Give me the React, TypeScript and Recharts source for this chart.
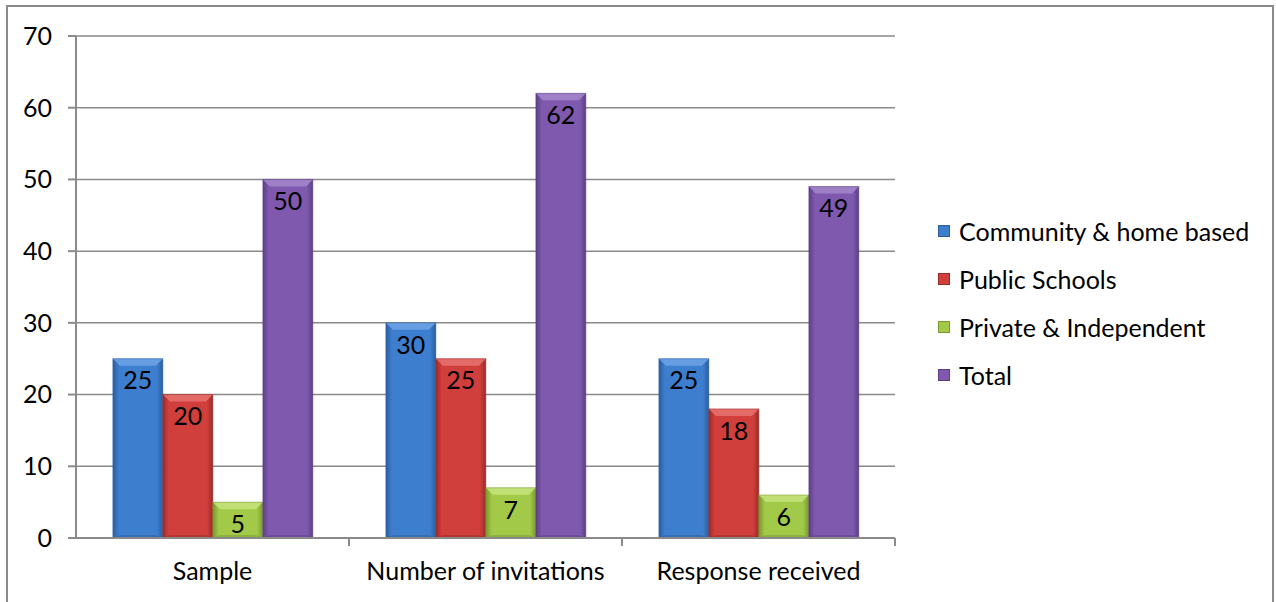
import React from 'react';
import { BarChart, Bar, XAxis, YAxis, CartesianGrid, Legend, LabelList } from 'recharts';

const categories = ['Sample', 'Number of invitations', 'Response received'];
const communityHome = [25, 30, 25];
const publicSchools = [20, 25, 18];
const privateIndependent = [5, 7, 6];
const totals = [50, 62, 49];
const yTicks = [0, 10, 20, 30, 40, 50, 60, 70];

const SERIES = [
  { key: 'community', name: 'Community & home based', values: communityHome, base: '#3d7ecf', light: '#6ea3e6', dark: '#2b5e9f' },
  { key: 'public', name: 'Public Schools', values: publicSchools, base: '#d13f3c', light: '#e8726f', dark: '#9c2a27' },
  { key: 'private', name: 'Private & Independent', values: privateIndependent, base: '#a2ca48', light: '#c6e47e', dark: '#789a2d' },
  { key: 'total', name: 'Total', values: totals, base: '#7f59ae', light: '#a487cc', dark: '#5c3f84' },
];

const data = categories.map((c, i) => {
  const row: any = { name: c };
  SERIES.forEach(s => { row[s.key] = s.values[i]; });
  return row;
});

const W = 1276;
const H = 602;
const PLOT_LEFT = 76;
const PLOT_RIGHT = 895;
const FONT = 'Lato, "Open Sans", sans-serif';
const FS = 25;
const AXIS = '#8a8a8a';

// Excel-style bevelled bar
const BevelBar = (props: any) => {
  const { x, y, width: w, height: h, base, light, dark, gid } = props;
  if (!h || h <= 0) return null;
  const b = Math.min(7, h / 2, w / 4);
  const id = `g-${gid}-${Math.round(x)}`;
  return (
    <g>
      <defs>
        <linearGradient id={id} x1="0" y1="0" x2="1" y2="0">
          <stop offset="0%" stopColor={dark} />
          <stop offset="12%" stopColor={base} />
          <stop offset="45%" stopColor={base} />
          <stop offset="88%" stopColor={base} />
          <stop offset="100%" stopColor={dark} />
        </linearGradient>
      </defs>
      <rect x={x} y={y} width={w} height={h} fill={`url(#${id})`} />
      <polygon points={`${x},${y} ${x + w},${y} ${x + w - b},${y + b} ${x + b},${y + b}`} fill={light} opacity={0.85} />
      <polygon points={`${x},${y + h} ${x + w},${y + h} ${x + w - b},${y + h - 3} ${x + b},${y + h - 3}`} fill={dark} opacity={0.5} />
      <rect x={x} y={y} width={w} height={h} fill="none" stroke={dark} strokeOpacity={0.5} strokeWidth={1} />
    </g>
  );
};

const XTick = (props: any) => {
  const { x, y, payload } = props;
  const half = (PLOT_RIGHT - PLOT_LEFT) / categories.length / 2;
  return (
    <g>
      <line x1={x + half} x2={x + half} y1={y - 16} y2={y - 8} stroke={AXIS} strokeWidth={2} />
      <text x={x} y={y} dy={26} textAnchor="middle" fontFamily={FONT} fontSize={FS} fill="#000">
        {payload.value}
      </text>
    </g>
  );
};

const renderLegend = () => (
  <div style={{ fontFamily: FONT, fontSize: FS, color: '#000' }}>
    {SERIES.map(s => (
      <div key={s.key} style={{ display: 'flex', alignItems: 'center', height: 48 }}>
        <span
          style={{
            display: 'inline-block',
            width: 12,
            height: 12,
            background: s.base,
            border: `1px solid ${s.dark}`,
            boxSizing: 'border-box',
            marginRight: 9,
          }}
        />
        <span>{s.name}</span>
      </div>
    ))}
  </div>
);

export default function App() {
  return (
    <div style={{ position: 'fixed', left: 0, top: 0, width: W, height: H, overflow: 'hidden', background: '#fff' }}>
      <div
        style={{
          position: 'absolute',
          left: 6,
          top: 5,
          width: 1268,
          height: 620,
          border: '2px solid #8a8a8a',
          boxSizing: 'border-box',
        }}
      />
      <div style={{ position: 'absolute', left: 0, top: 0 }}>
        <BarChart
          width={W}
          height={H}
          data={data}
          margin={{ top: 36, right: W - PLOT_RIGHT, bottom: 24, left: 0 }}
          barCategoryGap="13.5%"
          barGap={0}
        >
          <CartesianGrid vertical={false} stroke={AXIS} strokeWidth={1.5} />
          <XAxis
            dataKey="name"
            height={40}
            axisLine={{ stroke: AXIS, strokeWidth: 2 }}
            tickLine={false}
            tickSize={8}
            tickMargin={8}
            tick={<XTick />}
            interval={0}
          />
          <YAxis
            width={PLOT_LEFT}
            domain={[0, 70]}
            ticks={yTicks}
            interval={0}
            axisLine={{ stroke: AXIS, strokeWidth: 2 }}
            tickLine={{ stroke: AXIS, strokeWidth: 2 }}
            tickSize={8}
            tickMargin={16}
            tick={{ fontFamily: FONT, fontSize: FS, fill: '#000' }}
          />
          <Legend
            layout="horizontal"
            verticalAlign="middle"
            align="center"
            content={renderLegend}
            wrapperStyle={{ left: 938, top: 207, width: 336 }}
          />
          {SERIES.map(s => (
            <Bar
              key={s.key}
              dataKey={s.key}
              name={s.name}
              fill={s.base}
              isAnimationActive={false}
              shape={(p: any) => <BevelBar {...p} base={s.base} light={s.light} dark={s.dark} gid={s.key} />}
            >
              <LabelList
                dataKey={s.key}
                position="insideTop"
                offset={13}
                style={{ fontFamily: FONT, fontSize: FS, fill: '#000' }}
              />
            </Bar>
          ))}
        </BarChart>
      </div>
    </div>
  );
}
